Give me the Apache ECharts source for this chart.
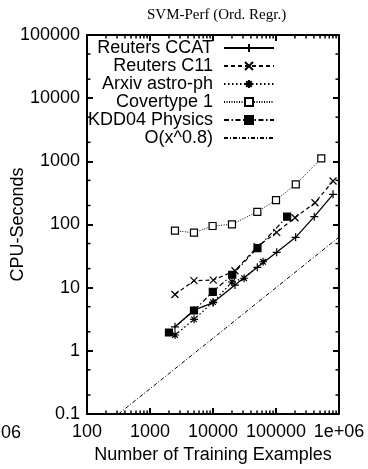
<!DOCTYPE html>
<html><head><meta charset="utf-8">
<script src="https://cdn.jsdelivr.net/npm/echarts@6/dist/echarts.min.js"></script>
<style>html,body{margin:0;padding:0;background:#fff}#c{width:368px;height:469px}</style>
</head><body><div id="c"></div>
<script>
// ---- data ----
const xTickValues = [100, 1000, 10000, 100000, 1000000];
const xTickLabels = ['100', '1000', '10000', '100000', '1e+06'];
const yTickValues = [0.1, 1, 10, 100, 1000, 10000, 100000];
const yTickLabels = ['0.1', '1', '10', '100', '1000', '10000', '100000'];

const ccatX  = [2490, 4990, 10100, 22300, 50500, 102600, 205000, 405000, 804414];
const ccatY  = [2.4, 4.4, 5.8, 11.0, 21.0, 36.3, 62.6, 133, 300];
const c11X   = [2490, 4990, 10100, 22300, 50500, 102600, 200000, 416000, 804414];
const c11Y   = [7.8, 12.9, 13.2, 18.5, 44.5, 75.2, 128, 221, 488];
const arxivX = [2500, 5000, 10000, 20000, 31184, 62369];
const arxivY = [1.78, 3.15, 5.9, 12.3, 14.1, 25.7];
const coverX = [2490, 4990, 9850, 20000, 50500, 100000, 206000, 522911];
const coverY = [79.7, 74.1, 94.6, 100.6, 159, 244, 432, 1115];
const kddX   = [2000, 4990, 9930, 20200, 50800, 150000];
const kddY   = [1.95, 4.35, 8.6, 16.0, 42.4, 133];
const refX   = [316, 1000, 10000, 100000, 1000000];
const refY   = [0.1, 0.251, 1.58, 10, 63.1];

const seriesNames = ['Reuters CCAT', 'Reuters C11', 'Arxiv astro-ph', 'Covertype 1', 'KDD04 Physics', 'O(x^0.8)'];
const xMinorMult = [2, 3, 4, 5, 6, 7, 8, 9];
const yMinorMult = [2, 5];

const pairs = (xs, ys) => xs.map((x, i) => [x, ys[i]]);
const SANS = 'Liberation Sans, Arial, sans-serif';
const FS = 18;

const chart = echarts.init(document.getElementById('c'), null, {renderer: 'canvas'});

function lab(values, labels) {
  return function (v) {
    const i = values.findIndex(t => Math.abs(Math.log10(t) - Math.log10(v)) < 1e-6);
    return i >= 0 ? labels[i] : '';
  };
}

const axisLine = {show: true, lineStyle: {color: '#000', width: 2}};
const tick = {show: true, inside: true, length: 6, lineStyle: {color: '#000', width: 2}};

const PLUS = 'path://M0,5L10,5M5,0L5,10';
const CROSS = 'path://M0,0L10,10M0,10L10,0';
const STAR = 'path://M0,5L10,5M5,0L5,10M1.5,1.5L8.5,8.5M1.5,8.5L8.5,1.5';

function mk(name, data, symbol, size, lineType, itemStyle, lw) {
  return {
    name, type: 'line', data, symbol, symbolSize: size, symbolKeepAspect: true,
    showSymbol: symbol !== 'none',
    lineStyle: {color: '#000', width: lw || 1.2, type: lineType},
    itemStyle: Object.assign({color: '#000', borderColor: '#000', borderWidth: 1.2}, itemStyle || {}),
    color: '#000',
    emphasis: {disabled: true},
    z: 3
  };
}

const legendData = seriesNames.map((n, i) => i === 5 ? {name: n, itemStyle: {opacity: 0}} : {name: n});

chart.setOption({
  animation: false,
  backgroundColor: '#fff',
  title: {
    text: 'SVM-Perf (Ord. Regr.)', left: 142, top: 3,
    textStyle: {fontFamily: 'Liberation Serif, serif', fontSize: 15, fontWeight: 'normal', color: '#000'}
  },
  grid: {left: 87, right: 29, top: 35, bottom: 55, show: false, containLabel: false, outerBoundsMode: 'none'},
  legend: {
    data: legendData,
    orient: 'vertical', align: 'right', right: 93, top: 39, padding: 0,
    itemWidth: 50, itemHeight: 10, itemGap: 0,
    textStyle: {fontFamily: SANS, fontSize: FS, color: '#000', lineHeight: 18, padding: [0, 6, 0, 0]},
    selectedMode: false
  },
  xAxis: [
    {type: 'log', logBase: 10, min: 100, max: 1000000, position: 'bottom',
     axisLine, axisTick: tick, splitLine: {show: false},
     axisLabel: {formatter: lab(xTickValues, xTickLabels), fontFamily: SANS, fontSize: FS, color: '#000', margin: 9, showMinLabel: true, showMaxLabel: true, hideOverlap: false},
     name: 'Number of Training Examples', nameLocation: 'middle', nameGap: 32, nameMoveOverlap: false,
     nameTextStyle: {fontFamily: SANS, fontSize: FS, color: '#000'}},
    {type: 'log', logBase: 10, min: 100, max: 1000000, position: 'top',
     axisLine, axisTick: tick, splitLine: {show: false}, axisLabel: {show: false}}
  ],
  yAxis: [
    {type: 'log', logBase: 10, min: 0.1, max: 100000, position: 'left',
     axisLine, axisTick: tick, splitLine: {show: false},
     axisLabel: {formatter: lab(yTickValues, yTickLabels), fontFamily: SANS, fontSize: FS, color: '#000', margin: 7, showMinLabel: true, showMaxLabel: true, hideOverlap: false},
     name: 'CPU-Seconds', nameLocation: 'middle', nameGap: 60, nameMoveOverlap: false,
     nameTextStyle: {fontFamily: SANS, fontSize: FS, color: '#000'}},
    {type: 'log', logBase: 10, min: 0.1, max: 100000, position: 'right',
     axisLine, axisTick: tick, splitLine: {show: false}, axisLabel: {show: false}}
  ],
  series: [
    mk(seriesNames[0], pairs(ccatX, ccatY), PLUS, 8, 'solid', null, 1.3),
    mk(seriesNames[1], pairs(c11X, c11Y), CROSS, 7, [4, 3], null, 1.2),
    mk(seriesNames[2], pairs(arxivX, arxivY), STAR, 8, [1.5, 2.5], null, 1.3),
    mk(seriesNames[3], pairs(coverX, coverY), 'rect', 7, [1, 1.5], {color: '#fff'}, 1),
    mk(seriesNames[4], pairs(kddX, kddY), 'rect', 7, [5, 2.5, 1.5, 2.5], null, 1.2),
    mk(seriesNames[5], pairs(refX, refY), 'none', 0, [4, 2, 1, 2], null, 1)
  ]
});

// minor ticks (axis decoration) placed through the axes' own scales
const g = [];
const x0 = chart.convertToPixel({xAxisIndex: 0}, 100), x1 = chart.convertToPixel({xAxisIndex: 0}, 1000000);
const yb = chart.convertToPixel({yAxisIndex: 0}, 0.1), yt = chart.convertToPixel({yAxisIndex: 0}, 100000);
const ML = 3.5;
for (let d = 100; d < 1000000; d *= 10) {
  xMinorMult.forEach(m => {
    const px = chart.convertToPixel({xAxisIndex: 0}, d * m);
    g.push({type: 'line', shape: {x1: px, y1: yb, x2: px, y2: yb - ML}, style: {stroke: '#000', lineWidth: 1.5}, silent: true, z: 10});
    g.push({type: 'line', shape: {x1: px, y1: yt, x2: px, y2: yt + ML}, style: {stroke: '#000', lineWidth: 1.5}, silent: true, z: 10});
  });
}
for (let d = 0.1; d < 100000; d *= 10) {
  yMinorMult.forEach(m => {
    const py = chart.convertToPixel({yAxisIndex: 0}, d * m);
    g.push({type: 'line', shape: {x1: x0, y1: py, x2: x0 + ML, y2: py}, style: {stroke: '#000', lineWidth: 1.5}, silent: true, z: 10});
    g.push({type: 'line', shape: {x1: x1, y1: py, x2: x1 - ML, y2: py}, style: {stroke: '#000', lineWidth: 1.5}, silent: true, z: 10});
  });
}
// stray clipped tick label seen at the far left of the reference
g.push({type: 'text', x: 21, y: yb + 19, style: {text: xTickLabels[4], align: 'right', verticalAlign: 'middle', font: FS + 'px ' + SANS, fill: '#000'}, silent: true});
chart.setOption({graphic: g});
</script></body></html>
